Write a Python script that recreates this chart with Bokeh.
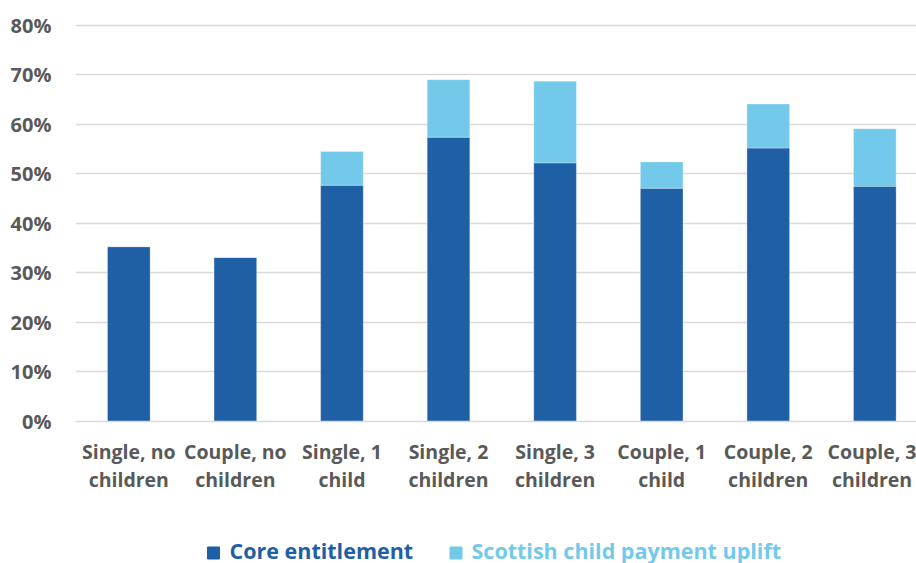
from bokeh.plotting import figure
from bokeh.models import ColumnDataSource, Range1d, FixedTicker, PrintfTickFormatter
from bokeh.layouts import column
from bokeh.embed import file_html
from bokeh.resources import INLINE
from bokeh.core.properties import value

categories = ["Single, no\nchildren", "Couple, no\nchildren", "Single, 1\nchild", "Single, 2\nchildren",
              "Single, 3\nchildren", "Couple, 1\nchild", "Couple, 2\nchildren", "Couple, 3\nchildren"]
core = [35.3, 33.1, 47.7, 57.4, 52.2, 47.1, 55.2, 47.5]
uplift = [0.0, 0.0, 6.8, 11.6, 16.5, 5.3, 8.9, 11.6]
series_names = ["Core entitlement", "Scottish child payment uplift"]
colors = ["#1F5FA6", "#72C9EA"]
y_ticks = [0, 10, 20, 30, 40, 50, 60, 70, 80]

FONT = "Open Sans"
GREY = "#595959"

xs = list(range(len(categories)))
src = ColumnDataSource(dict(x=xs, core=core, uplift=uplift))

p = figure(width=916, height=498, frame_width=841, frame_height=403,
           min_border_left=75, min_border_right=0, min_border_top=18, min_border_bottom=77,
           x_range=Range1d(-0.5, 7.391), y_range=Range1d(0, 81.35),
           output_backend="svg", toolbar_location=None, tools="")
p.outline_line_color = None

p.vbar_stack(["core", "uplift"], x="x", width=0.40, color=colors, source=src,
             line_color="white", line_width=0.5, line_alpha=0.6)

p.xgrid.grid_line_color = None
p.ygrid.grid_line_color = "#D9D9D9"
p.ygrid.grid_line_width = 1.5
p.ygrid.ticker = FixedTicker(ticks=y_ticks)

p.yaxis.ticker = FixedTicker(ticks=y_ticks)
p.yaxis.formatter = PrintfTickFormatter(format="%d%%")
p.yaxis.axis_line_color = None
p.yaxis.major_tick_line_color = None
p.yaxis.minor_tick_line_color = None
p.yaxis.major_label_standoff = 18
p.yaxis.major_label_text_font = FONT
p.yaxis.major_label_text_font_style = "bold"
p.yaxis.major_label_text_font_size = "20px"
p.yaxis.major_label_text_color = GREY

p.xaxis.ticker = FixedTicker(ticks=xs)
p.xaxis.major_label_overrides = {i: c for i, c in zip(xs, categories)}
p.xaxis.axis_line_color = "#D9D9D9"
p.xaxis.axis_line_width = 1.5
p.xaxis.major_tick_line_color = None
p.xaxis.minor_tick_line_color = None
p.xaxis.major_label_standoff = 10
p.xaxis.major_label_text_font = FONT
p.xaxis.major_label_text_font_style = "bold"
p.xaxis.major_label_text_font_size = "19.5px"
p.xaxis.major_label_text_color = GREY
p.xaxis.major_label_text_line_height = 1.05

# Legend as a separate strip (x data units == screen pixels)
lg = figure(width=916, height=65, frame_width=841, frame_height=65,
            x_range=Range1d(75, 916), y_range=Range1d(0, 65),
            min_border_left=75, min_border_right=0, min_border_top=0, min_border_bottom=0,
            output_backend="svg", toolbar_location=None, tools="")
lg.axis.visible = False
lg.grid.visible = False
lg.outline_line_color = None

sw_x = [213, 455.5]
tx_x = [229, 471]
lsrc = ColumnDataSource(dict(sx=sw_x, tx=tx_x, sy=[10.5, 10.5], ty=[13.5, 13.5],
                             name=series_names, color=colors))
lg.rect(x="sx", y="sy", width=12, height=12, color="color", source=lsrc)
lg.text(x="tx", y="ty", text="name", text_color="color", source=lsrc,
        text_font=value(FONT), text_font_style="bold", text_font_size="21.5px",
        text_baseline="middle", text_align="left")

layout = column(p, lg, spacing=0)
open("out.html", "w").write(file_html(layout, INLINE))
